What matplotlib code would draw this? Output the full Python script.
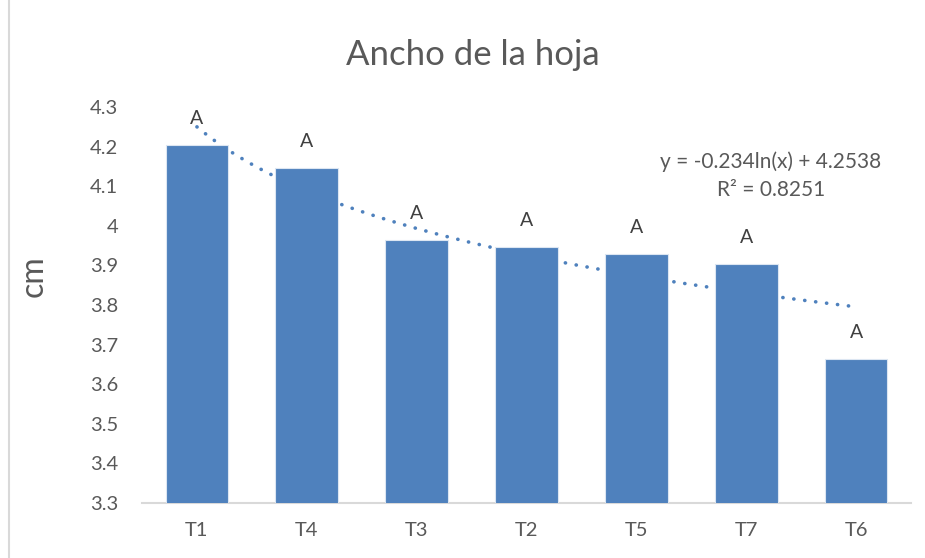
import numpy as np
import matplotlib.pyplot as plt
from matplotlib.lines import Line2D

# data
tratamientos = ['T1', 'T4', 'T3', 'T2', 'T5', 'T7', 'T6']
ancho = [4.204, 4.146, 3.964, 3.947, 3.929, 3.904, 3.664]
letras = ['A', 'A', 'A', 'A', 'A', 'A', 'A']
ecuacion = 'y = -0.234ln(x) + 4.2538'
r2 = 'R² = 0.8251'

azul = '#4f81bd'
gris = '#595959'

plt.rcParams['font.family'] = ['Lato', 'DejaVu Sans']

fig = plt.figure(figsize=(9.25, 5.58), dpi=100)
ax = fig.add_axes([142 / 925, 1 - 503 / 558, (911 - 142) / 925, (503 - 107) / 558])

x = np.arange(1, len(tratamientos) + 1)
ax.bar(x, ancho, width=0.57, color=azul, edgecolor='#dce6f2', linewidth=0.8, zorder=3)

# log trendline fitted to the bars (Excel style)
b, a = np.polyfit(np.log(x), ancho, 1)
xt = np.linspace(1, len(x), 200)
ax.plot(xt, b * np.log(xt) + a, color=azul, lw=2.6, linestyle=(0, (0.05, 3.0)),
        dash_capstyle='round', zorder=2)

for xi, v, l in zip(x, ancho, letras):
    ax.annotate(l, (xi, v), xytext=(0, 19), textcoords='offset points',
                ha='center', va='center', fontsize=14, color='#404040')

ax.set_xlim(0.5, len(x) + 0.5)
ax.set_ylim(3.3, 4.3)
ax.set_yticks(np.arange(3.3, 4.31, 0.1))
ax.set_yticklabels(['3.3', '3.4', '3.5', '3.6', '3.7', '3.8', '3.9', '4', '4.1', '4.2', '4.3'])
ax.set_xticks(x)
ax.set_xticklabels(tratamientos)
ax.tick_params(length=0, labelsize=14.5, colors=gris)
ax.tick_params(axis='y', pad=17)
ax.tick_params(axis='x', pad=14)
for s in ['top', 'right', 'left']:
    ax.spines[s].set_visible(False)
ax.spines['bottom'].set_color('#d9d9d9')
ax.spines['bottom'].set_linewidth(1.5)

ax.set_ylabel('cm', fontsize=23, color=gris)
ax.yaxis.set_label_coords(-93 / 769, 0.573)

fig.text(473 / 925, 1 - 55 / 558, 'Ancho de la hoja', ha='center', va='center',
         fontsize=25, color=gris)
fig.text(771 / 925, 1 - 162 / 558, ecuacion, ha='center', va='center', fontsize=15, color=gris)
fig.text(771 / 925, 1 - 190 / 558, r2, ha='center', va='center', fontsize=15, color=gris)

# chart area border on the left
fig.add_artist(Line2D([9 / 925, 9 / 925], [0, 1], color='#d9d9d9', lw=1.5))

fig.savefig('out.png', dpi=100)
